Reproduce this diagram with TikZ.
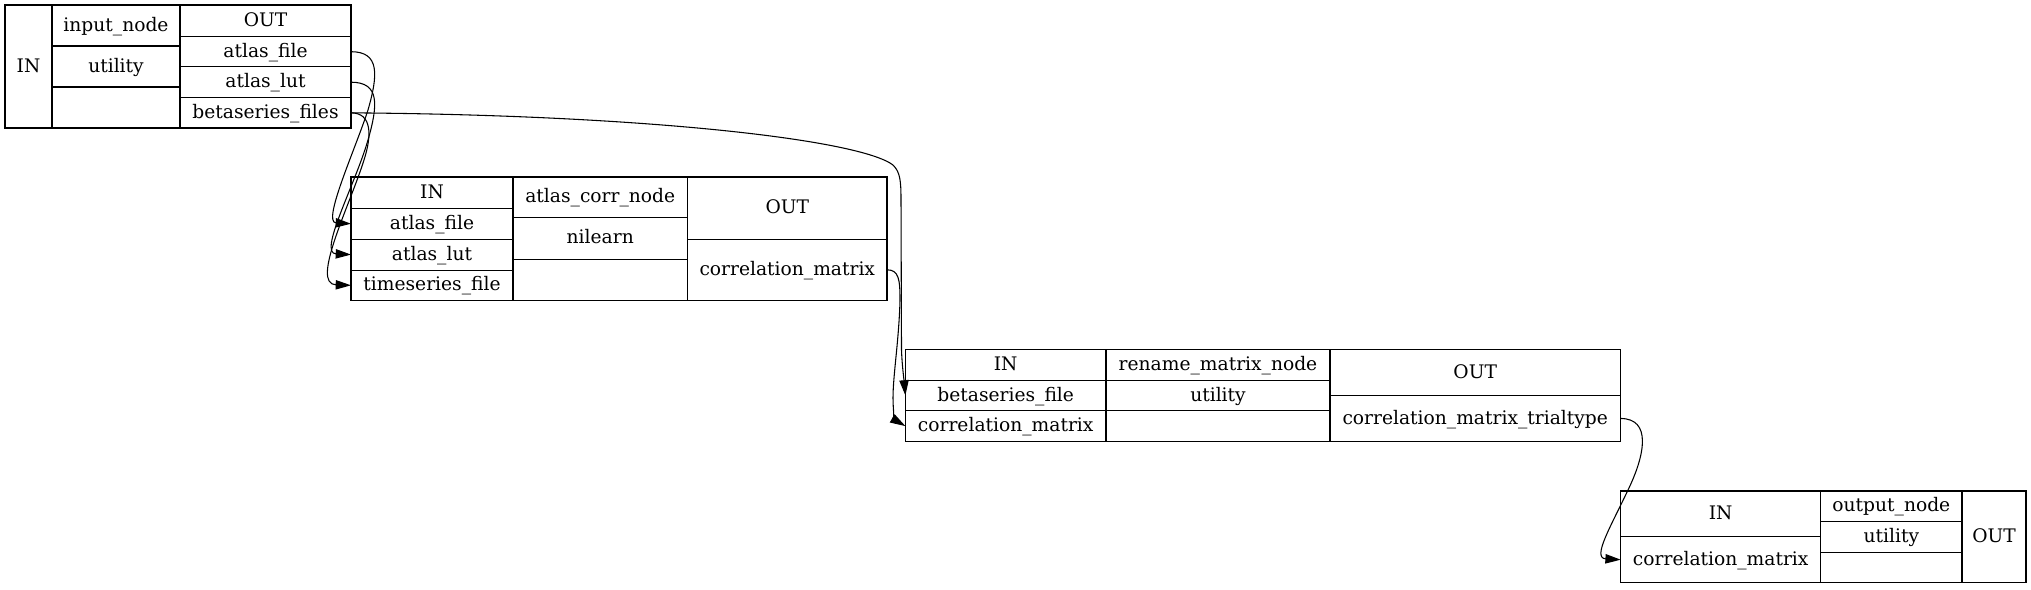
\documentclass[tikz,border=0pt]{standalone}
\usepackage{fontspec}
\setmainfont{DejaVu Serif}
\usetikzlibrary{arrows.meta}
\newcommand\mkcell[6]{%
  \node[cellbox, minimum width={(#4-#2)*0.75pt}, minimum height={(#5-#3)*0.75pt}] (#1) at ({(#2+#4)/2},{(#3+#5)/2}) {#6};}
\begin{document}
\begin{tikzpicture}[x=0.75pt,y=-0.75pt,
  cellbox/.style={draw=black, line width=0.8pt, inner sep=0pt, outer sep=0pt, text height=8.4pt, text depth=0pt, font=\fontsize{14pt}{16pt}\selectfont, anchor=center},
  edge/.style={draw=black, line width=0.8pt, -{Triangle[length=11.5pt,width=7pt]}}]
\useasboundingbox (0,0) rectangle (2031,589);
% input_node
\mkcell{in1IN}{5}{5}{52}{128}{IN}
\mkcell{in1name}{52}{5}{180}{46}{input\_node}
\mkcell{in1util}{52}{46}{180}{87}{utility}
\mkcell{in1empty}{52}{87}{180}{128}{}
\mkcell{in1OUT}{180}{5}{351}{36.7}{OUT}
\mkcell{in1af}{180}{36.7}{351}{66.7}{atlas\_file}
\mkcell{in1al}{180}{66.7}{351}{97.7}{atlas\_lut}
\mkcell{in1bf}{180}{97.7}{351}{128}{betaseries\_files}
% atlas_corr_node
\mkcell{acIN}{351}{177}{513}{208.4}{IN}
\mkcell{acaf}{351}{208.4}{513}{239.1}{atlas\_file}
\mkcell{acal}{351}{239.1}{513}{270.1}{atlas\_lut}
\mkcell{acts}{351}{270.1}{513}{300.5}{timeseries\_file}
\mkcell{acname}{513}{177}{687.5}{217.2}{atlas\_corr\_node}
\mkcell{acnil}{513}{217.2}{687.5}{259.3}{nilearn}
\mkcell{acempty}{513}{259.3}{687.5}{300.5}{}
\mkcell{acOUT}{687.5}{177}{887}{239.1}{OUT}
\mkcell{accm}{687.5}{239.1}{887}{300.5}{correlation\_matrix}
% rename_matrix_node
\mkcell{rnIN}{905.4}{349.7}{1106}{380.5}{IN}
\mkcell{rnbf}{905.4}{380.5}{1106}{410.5}{betaseries\_file}
\mkcell{rncm}{905.4}{410.5}{1106}{441.7}{correlation\_matrix}
\mkcell{rnname}{1106}{349.7}{1330}{380.5}{rename\_matrix\_node}
\mkcell{rnutil}{1106}{380.5}{1330}{410.5}{utility}
\mkcell{rnempty}{1106}{410.5}{1330}{441.7}{}
\mkcell{rnOUT}{1330}{349.7}{1620.4}{395.2}{OUT}
\mkcell{rncmt}{1330}{395.2}{1620.4}{441.7}{correlation\_matrix\_trialtype}
% output_node
\mkcell{outIN}{1620.7}{491}{1820.7}{536.7}{IN}
\mkcell{outcm}{1620.7}{536.7}{1820.7}{582.7}{correlation\_matrix}
\mkcell{outname}{1820.7}{491}{1962}{521.7}{output\_node}
\mkcell{oututil}{1820.7}{521.7}{1962}{552.7}{utility}
\mkcell{outempty}{1820.7}{552.7}{1962}{582.7}{}
\mkcell{outOUT}{1962}{491}{2026}{582.7}{OUT}
% edges
\draw[edge] (in1af.east) .. controls (380,51.7) and (378,75) .. (368,110)
  .. controls (355,150) and (322,222) .. (acaf.west);
\draw[edge] (in1al.east) .. controls (380,82.2) and (378,105) .. (368,140)
  .. controls (355,185) and (318,253) .. (acal.west);
\draw[edge] (in1bf.east) .. controls (372,112.9) and (372,135) .. (364,160)
  .. controls (350,205) and (310,284) .. (acts.west);
\draw[edge] (in1bf.east) .. controls (650,115) and (860,140) .. (893,165)
  .. controls (900,172) and (901,180) .. (901,200) -- (901.5,350)
  .. controls (902,365) and (904,380) .. (rnbf.west);
\draw[edge] (accm.east) .. controls (899,269.8) and (900,280) .. (900,300)
  .. controls (899,340) and (893,375) .. (893,398)
  .. controls (893,410) and (895,420) .. (rncm.west);
\draw[edge] (rncmt.east) .. controls (1652,418.5) and (1645,455) .. (1628,490)
  .. controls (1610,528) and (1592,558) .. (outcm.west);
\end{tikzpicture}
\end{document}
